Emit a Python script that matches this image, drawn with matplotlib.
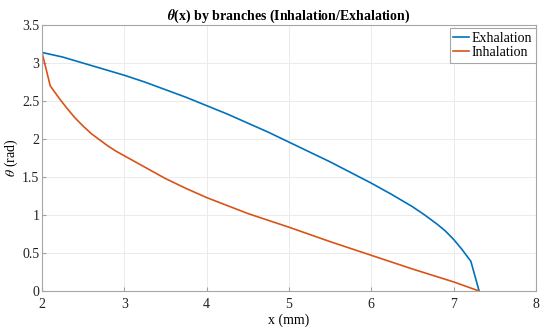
import matplotlib
matplotlib.use("Agg")
import matplotlib.pyplot as plt

# theta(x)
x_exh = [2.0, 2.25, 2.5, 2.75, 3.0, 3.25, 3.5, 3.75, 4.0, 4.25, 4.5, 4.75, 5.0,
         5.25, 5.5, 5.75, 6.0, 6.25, 6.5, 6.65, 6.8, 6.9, 7.0, 7.1, 7.21, 7.31]
th_exh = [3.14, 3.08, 3.00, 2.92, 2.84, 2.75, 2.65, 2.55, 2.44, 2.33, 2.21, 2.09, 1.96,
          1.83, 1.70, 1.56, 1.42, 1.27, 1.11, 1.00, 0.88, 0.79, 0.68, 0.55, 0.39, 0.0]

x_inh = [2.0, 2.1, 2.22, 2.3, 2.4, 2.5, 2.6, 2.7, 2.8, 2.9, 3.0, 3.25, 3.5, 3.75, 4.0,
         4.5, 5.0, 5.5, 6.0, 6.5, 7.0, 7.31]
th_inh = [3.14, 2.70, 2.52, 2.41, 2.28, 2.17, 2.07, 1.99, 1.91, 1.84, 1.78, 1.63, 1.48, 1.35,
          1.23, 1.02, 0.84, 0.65, 0.47, 0.29, 0.12, 0.0]

plt.rcParams["font.family"] = ["Liberation Serif", "DejaVu Serif"]
plt.rcParams["mathtext.fontset"] = "stix"
plt.rcParams["font.size"] = 10

fig = plt.figure(figsize=(5.5, 3.35), dpi=100)
ax = fig.add_axes([0.0764, 0.1313, 0.898, 0.7937])

ax.plot(x_exh, th_exh, color="#0072BD", lw=1.2, label="Exhalation")
ax.plot(x_inh, th_inh, color="#D95319", lw=1.2, label="Inhalation")

ax.set_xlim(2, 8)
ax.set_ylim(0, 3.5)
ax.set_xticks(range(2, 9))
ax.set_yticks([0, 0.5, 1, 1.5, 2, 2.5, 3, 3.5])
ax.set_yticklabels(["0", "0.5", "1", "1.5", "2", "2.5", "3", "3.5"])
ax.grid(True, color="#ebebeb", lw=0.7)
ax.set_axisbelow(True)
ax.tick_params(direction="in", length=3, color="#a0a0a0", labelsize=10, labelcolor="#222222")
ax.tick_params(axis="y", pad=2)
ax.tick_params(axis="x", pad=5)
for s in ax.spines.values():
    s.set_color("#a6a6a6")
    s.set_linewidth(0.8)

ax.set_xlabel("x (mm)", fontsize=10, labelpad=2)
ax.set_ylabel(r"$\theta$ (rad)", fontsize=10)
ax.yaxis.set_label_coords(-0.044, 0.5)
ax.set_title(r"$\boldsymbol{\theta}$(x) by branches (Inhalation/Exhalation)", fontsize=10,
             fontweight="bold", pad=4)

leg = ax.legend(loc="upper right", bbox_to_anchor=(1.0, 0.988), fontsize=10, frameon=True,
                fancybox=False, edgecolor="#a6a6a6", handlelength=1.15, handletextpad=0.2,
                borderpad=0.25, labelspacing=0.1, borderaxespad=0.0, framealpha=1)
leg.get_frame().set_linewidth(0.8)

fig.savefig("out.png", dpi=100)
